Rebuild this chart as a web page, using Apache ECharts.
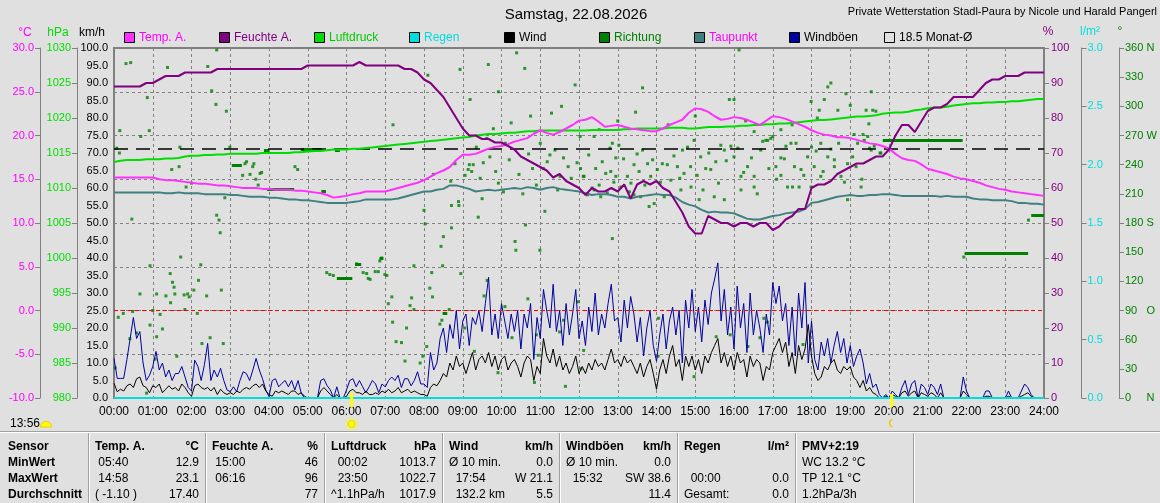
<!DOCTYPE html>
<html>
<head>
<meta charset="utf-8">
<script src="https://cdn.jsdelivr.net/npm/echarts@6/dist/echarts.min.js"></script>
<style>
html,body{margin:0;padding:0;background:#e0e0e0;}
#wetter{width:1160px;height:503px;}
</style>
</head>
<body>
<div id="wetter"></div>
<script>
// Tagesdaten 22.08.2026, Werte alle 10 Minuten (00:00 .. 24:00)
var tempA = [
15.2,15.2,15.2,15.2,15.2,15.2, 15.2,15.0,14.9,14.9,14.8,14.7,
14.6,14.5,14.5,14.4,14.3,14.3, 14.2,14.1,14.0,14.0,14.0,13.9,
13.9,13.8,13.8,13.8,13.7,13.7, 13.6,13.5,13.4,13.2,12.9,13.0,
13.1,13.3,13.4,13.6,13.6,13.6, 13.6,13.8,14.0,14.2,14.4,14.6,
14.9,15.3,15.7,16.0,16.4,17.2, 17.8,17.8,17.9,18.2,18.5,18.7,
18.8,19.0,19.3,19.5,19.7,20.2, 20.6,20.3,20.1,20.4,20.8,21.2,
21.7,21.8,22.1,21.6,21.0,21.1, 21.2,21.0,20.8,20.7,20.6,20.5,
20.5,20.8,21.2,21.5,21.8,22.6, 23.1,23.0,22.7,22.2,21.8,21.9,
22.1,22.0,21.8,21.5,21.2,21.7, 22.2,22.1,21.9,21.6,21.3,21.0,
20.6,20.3,20.1,20.0,19.8,19.8, 19.7,19.5,19.3,19.1,19.0,18.8,
18.5,17.9,17.4,17.2,17.1,16.7, 16.2,16.0,15.8,15.6,15.3,15.1,
15.0,14.8,14.6,14.3,14.1,13.9, 13.8,13.6,13.5,13.4,13.3,13.2,
13.1];
var feuchteA = [
89,89,89,89,89,90, 90,91,92,92,92,93, 93,93,93,93,94,94, 94,94,94,94,94,94,
94,94,94,94,94,94, 95,95,95,95,95,95, 95,95,96,95,95,95, 95,95,95,94,94,93,
91,90,88,86,83,80, 77,75,75,74,74,73, 73,72,71,69,68,67, 66,65,63,64,62,61,
60,58,60,59,59,60, 59,61,57,61,62,61, 62,60,59,56,53,49, 47,47,52,51,50,50,
49,50,50,49,50,50, 48,49,51,52,54,54, 60,61,61,62,64,65, 66,67,67,68,69,69,
71,75,78,78,76,79, 82,83,83,84,86,86, 86,86,88,90,91,91, 92,92,92,93,93,93,
93];
var luftdruck = [
1013.7,1013.9,1014.0,1014.0,1014.0,1014.1, 1014.1,1014.1,1014.2,1014.2,1014.3,1014.5,
1014.6,1014.6,1014.7,1014.7,1014.8,1014.8, 1014.9,1014.9,1014.9,1014.9,1014.9,1015.0,
1015.0,1015.0,1015.0,1015.0,1015.1,1015.1, 1015.2,1015.3,1015.3,1015.4,1015.5,1015.5,
1015.5,1015.6,1015.6,1015.7,1015.8,1015.9, 1016.0,1016.1,1016.2,1016.3,1016.4,1016.5,
1016.6,1016.7,1016.8,1016.9,1017.0,1017.1, 1017.2,1017.3,1017.5,1017.6,1017.7,1017.7,
1017.8,1017.9,1017.9,1018.0,1018.1,1018.1, 1018.2,1018.2,1018.2,1018.2,1018.2,1018.2,
1018.2,1018.2,1018.3,1018.3,1018.3,1018.3, 1018.3,1018.4,1018.4,1018.5,1018.5,1018.5,
1018.5,1018.5,1018.6,1018.6,1018.6,1018.5, 1018.5,1018.6,1018.7,1018.7,1018.7,1018.8,
1018.8,1018.9,1018.9,1019.0,1019.0,1019.1, 1019.1,1019.2,1019.2,1019.3,1019.4,1019.5,
1019.6,1019.7,1019.7,1019.8,1019.9,1020.0, 1020.1,1020.2,1020.2,1020.3,1020.4,1020.6,
1020.7,1020.8,1020.8,1020.9,1021.1,1021.2, 1021.4,1021.5,1021.5,1021.6,1021.8,1021.9,
1022.0,1022.1,1022.1,1022.2,1022.2,1022.3, 1022.3,1022.4,1022.4,1022.5,1022.6,1022.7,
1022.7];
var taupunkt = [
13.5,13.5,13.5,13.5,13.5,13.5, 13.5,13.5,13.4,13.4,13.5,13.4,
13.4,13.4,13.3,13.3,13.3,13.3, 13.2,13.2,13.1,13.0,13.0,13.0,
12.9,12.9,12.8,12.7,12.7,12.6, 12.6,12.5,12.4,12.3,12.3,12.3,
12.3,12.4,12.5,12.7,12.7,12.7, 12.7,12.7,12.8,13.0,13.2,13.4,
13.6,13.6,13.8,13.9,14.3,14.3, 14.1,13.9,13.6,13.7,13.8,13.7,
13.8,13.9,14.0,13.9,14.1,14.0, 13.8,14.0,14.1,13.9,13.8,13.7,
13.6,13.4,13.2,13.3,13.3,13.2, 13.0,13.0,12.8,13.0,13.1,13.2,
13.3,13.2,13.2,12.9,12.4,12.1, 11.9,11.5,11.2,11.3,11.2,11.2,
11.1,10.8,10.5,10.4,10.4,10.6, 10.8,10.9,11.1,11.2,11.3,11.6,
12.3,12.4,12.6,12.8,13.0,13.1, 13.2,13.1,13.1,13.2,13.2,13.3,
13.3,13.2,13.1,13.1,13.1,13.1, 13.1,13.1,13.0,13.1,13.0,13.0,
13.0,12.8,12.7,12.7,12.6,12.6, 12.6,12.5,12.3,12.3,12.2,12.2,
12.1];
// Regen, stuendlich
var regen = [0,0,0,0,0,0,0,0,0,0,0,0,0,0,0,0,0,0,0,0,0,0,0,0,0];
// Wind und Boeen, alle 5 Minuten
var windboeen = [
11.3,5.6,5.6,5.6,11.0,17.0,23.0,17.0,19.0,10.0,5.0,6.5,
9.0,13.3,8.0,10.0,6.0,8.0,5.0,7.0,7.0,9.0,6.0,3.0,
2.0,10.8,9.0,5.0,9.5,15.6,5.0,8.0,6.0,8.5,5.0,2.3,
1.8,3.2,1.8,5.0,7.5,7.0,5.0,8.0,11.3,8.0,5.5,2.3,
0.4,5.0,5.5,3.2,4.2,5.0,3.2,5.0,2.3,5.0,1.3,0.0,
0.0,0.0,0.0,0.0,5.0,5.5,3.5,2.3,0.0,3.2,0.0,0.0,
2.3,5.0,5.5,3.2,5.0,3.2,1.5,3.2,5.0,4.0,1.5,4.0,
3.2,5.0,6.0,5.0,6.5,3.0,5.5,5.5,3.5,5.0,7.5,4.0,
4,3,13,8,10,17,20,13,21,17,25,14,
22,24,15,23,21,25,19,27,34.5,18,24,17,
27,22,17,24,19,25,14,24,20,27,11,23,
17,31,25,20,32.5,19,25,15,27,18,24,31,
17,22,15,26,19,30,18,24,20,27,32.5,22,
23,16,28,20,29,24,16,23,12,20,25,15,
10.5,18,24,14,22,26,18,25,10,28,20,31,
19,26,16,28,21,30,34,38.6,22,31,18,26,
14,32,20,27,13,30,18,25,20,13,24,18,
33,27,32,22,27,15,26,12,30,20,33,10,
22,11,8,16,12,17,10,15,19,13,17,10,
15,9,12,14,10,4,7,3,4,1,0,1,
0,2,1,0,3,5,1,4,5,0,4,3,
1,4,3,1,4,0,0,0,0,0,0,6,
2,0,0,0,0,0,2,2,0,0,0,0,
0,2,0,0,0,2,4,3,1,0,0,0,
0];
var wind = [
4.2,1.8,2.5,2.0,3.5,4.0,3.0,5.5,6.0,3.5,3.0,1.5,
3.5,3.0,4.0,1.5,2.5,3.5,2.5,3.0,2.0,4.0,3.0,1.5,
0.5,3.5,4.0,3.0,2.5,3.0,2.0,3.0,1.0,2.5,1.5,1.0,
1.5,1.0,2.0,1.5,2.5,3.0,2.5,3.5,4.0,3.0,4.0,2.0,
1.0,0.5,2.0,1.5,2.0,1.5,1.0,2.0,2.0,1.0,1.5,0.5,
0,0,0,0,2.0,3.0,2.0,1.0,0,1.0,0,0,
0.5,2.0,2.5,1.5,1.5,1.0,2.0,1.0,1.0,1.5,1.0,2.0,
1.5,2.5,1.5,2.0,3.0,1.5,2.0,2.5,1.5,2.0,1.5,1.0,
1,0.5,3,4,3.5,5,7,6,10,8,12,9,
10,7,10,13,8,11,12,10,13,9,12,8,
11,12,8,10,11,9,6,10,12,11,5,9,
7,17,12,10,14,9,12,8,10,7,9,12,
7,9,7,10,8,11,9,10,8,11,14,10,
11,9,12,10,11,9,7,10,6,9,11,7,
2.5,8,11,7,12,15,9,11,5,12,9,12,
8,11,7,12,10,13,15,17,10,13,9,12,
8,13,10,11,6,12,9,11,10,5,9,8,
13,15,17,13,16,9,13,7,15,11,14,21,
12,7,5,6,9,8,10,11,8,7,9,8,
9,6,5,3,5,2,3,1.5,1,0,0,0.5,
0,1,0.5,0,1.5,2,0.5,1.5,2,0,1.5,1,
0.5,1.5,1,0,1.5,0,0,0,0,0,0,2,
1,0,0,0,0,0,0.5,0.5,0,0,0,0,
0,0.5,0,0,0,0.5,1,1.5,0.5,0,0,0,
0];
// Windrichtung: [Stunde, Grad]
var richtungPunkte = [
[0.03,31],[0.07,257],[0.11,83],[0.14,252],[0.15,275],[0.24,87],[0.31,344],[0.41,61],[0.43,345],[0.46,184],[0.48,89],[0.58,67],[0.67,107],[0.69,269],[0.84,5],[0.86,309],[0.91,275],[0.93,136],[0.93,75],
[1.0,90],[1.06,40],[1.1,107],[1.1,63],[1.19,86],[1.25,71],[1.34,105],[1.38,340],[1.45,128],[1.46,98],[1.49,235],[1.51,119],[1.55,114],[1.57,107],[1.62,43],[1.68,238],[1.7,258],[1.72,145],[1.81,106],[1.83,91],[1.86,217],[1.9,107],[1.94,104],
[2.0,221],[2.06,111],[2.15,87],[2.18,121],[2.24,137],[2.27,56],[2.39,105],[2.42,341],[2.48,62],[2.52,316],[2.63,302],[2.65,188],[2.65,358],[2.71,183],[2.74,170],[2.77,111],[2.82,56],[2.86,206],[2.9,295],[2.99,258],
[3.32,229],[3.38,241],[3.42,243],[3.51,230],[3.58,238],[3.61,241],[3.66,225],[3.72,219],[3.77,231],[3.81,232],
[4.67,238],[4.74,235],[5.49,129],[5.57,127],[5.66,126],
[6.26,138],[6.43,129],[6.52,128],[6.56,123],[6.61,122],[6.74,130],[6.82,130],[6.86,141],[6.91,144],[6.99,127],
[7.04,126],[7.08,97],[7.17,104],[7.19,78],[7.2,281],[7.28,58],[7.42,57],[7.51,38],[7.55,72],[7.64,95],[7.68,103],[7.74,91],[7.74,136],[7.9,36],[7.97,43],
[8.0,193],[8.03,179],[8.07,53],[8.1,332],[8.15,113],[8.2,129],[8.22,104],[8.24,230],[8.41,76],[8.44,156],[8.46,80],[8.48,136],[8.5,166],[8.54,87],[8.65,91],[8.69,223],[8.71,198],[8.71,175],[8.8,241],[8.89,202],[8.9,198],[8.93,338],[8.95,128],
[9.05,72],[9.06,229],[9.14,235],[9.17,240],[9.19,307],[9.23,233],[9.27,240],[9.3,48],[9.35,258],[9.4,186],[9.45,226],[9.5,205],[9.53,242],[9.55,105],[9.62,267],[9.63,121],[9.66,343],[9.7,248],[9.79,277],[9.85,233],[9.91,26],[9.92,315],[9.92,221],
[10.05,212],[10.09,94],[10.1,262],[10.2,245],[10.25,283],[10.27,62],[10.35,161],[10.37,152],[10.39,355],[10.45,230],[10.55,210],[10.6,339],[10.62,178],[10.68,102],[10.7,251],[10.75,290],[10.8,236],[10.85,16],[10.9,219],[10.9,65],[10.95,44],[10.99,152],
[11.0,262],[11.08,236],[11.12,192],[11.18,243],[11.25,250],[11.29,293],[11.38,255],[11.45,214],[11.5,68],[11.51,228],[11.55,300],[11.6,247],[11.6,80],[11.65,12],[11.72,238],[11.8,226],[11.9,322],[11.95,242],[11.98,99],
[12.03,269],[12.04,236],[12.05,30],[12.11,228],[12.12,49],[12.13,228],[12.22,209],[12.25,250],[12.34,216],[12.39,214],[12.39,269],[12.43,236],[12.52,219],[12.52,276],[12.56,207],[12.6,243],[12.69,231],[12.73,211],[12.8,257],[12.82,233],[12.86,262],[12.86,164],[12.9,222],[12.95,247],[12.95,228],
[13.0,285],[13.03,260],[13.08,217],[13.15,246],[13.25,228],[13.3,212],[13.34,221],[13.42,240],[13.42,209],[13.46,294],[13.5,251],[13.55,233],[13.59,207],[13.64,255],[13.64,319],[13.7,219],[13.77,241],[13.81,197],[13.85,228],[13.9,245],[13.94,200],
[14.02,235],[14.04,43],[14.05,82],[14.1,222],[14.15,241],[14.2,207],[14.28,240],[14.3,281],[14.37,224],[14.45,249],[14.54,238],[14.6,226],[14.63,214],[14.67,255],[14.71,231],[14.8,258],[14.88,238],[14.89,217],[14.97,265],[14.97,22],
[15.0,290],[15.05,229],[15.1,204],[15.14,248],[15.2,214],[15.27,236],[15.35,252],[15.4,235],[15.49,207],[15.53,243],[15.54,63],[15.6,221],[15.66,260],[15.75,255],[15.75,204],[15.8,244],[15.88,307],[15.9,65],[15.92,259],
[16.0,248],[16.0,307],[16.1,257],[16.13,358],[16.18,228],[16.18,214],[16.25,232],[16.3,285],[16.35,238],[16.36,53],[16.45,247],[16.52,228],[16.52,217],[16.52,274],[16.6,210],[16.67,62],[16.69,255],[16.74,264],[16.77,82],[16.82,265],[16.86,78],[16.87,265],[16.9,236],[16.95,267],
[17.0,269],[17.08,238],[17.1,225],[17.21,247],[17.21,229],[17.21,276],[17.3,246],[17.34,259],[17.38,217],[17.47,262],[17.5,281],[17.51,217],[17.56,238],[17.6,262],[17.68,217],[17.73,235],[17.78,55],[17.8,229],[17.9,248],[17.99,305],[17.99,217],
[18.0,258],[18.07,238],[18.12,254],[18.15,288],[18.2,296],[18.24,262],[18.24,228],[18.3,233],[18.33,307],[18.42,320],[18.42,248],[18.5,256],[18.5,324],[18.59,238],[18.59,245],[18.68,296],[18.7,262],[18.76,228],[18.85,222],[18.89,313],[18.93,241],[18.93,204],
[19.0,301],[19.06,248],[19.1,271],[19.15,238],[19.19,262],[19.28,217],[19.3,225],[19.33,271],[19.36,265],[19.41,296],[19.45,269],[19.48,282],[19.5,257],[19.54,315],[19.54,255],[19.58,296],[19.62,259],[19.66,295],[19.77,252],[19.79,252],
[21.93,145],[23.6,183]
];
// Windstille: Richtung bleibt stehen [von, bis, Grad]
var richtungKonstant = [
[3.04,3.30,239],[3.87,4.0,255],[3.95,4.65,215],[4.82,5.36,256],[5.35,5.47,213],[5.7,5.83,255],
[5.75,6.15,123],[6.22,6.38,138],[6.85,6.95,144],[8.48,8.6,87],
[19.84,21.9,265],[21.95,23.59,149],[23.67,24,188]
];
var monatMittel = 18.5;
var sonnenAufgang = 6 + 8 / 60;
var sonnenUntergang = 20 + 4 / 60;
var tagesLaenge = '13:56';

// Tabelle unten
var tabKopf = [['Temp. A.','°C'],['Feuchte A.','%'],['Luftdruck','hPa'],['Wind','km/h'],['Windböen','km/h'],['Regen','l/m²'],['PMV+2:19','']];
var tabMin = [[' 05:40','12.9'],[' 15:00','46'],['  00:02','1013.7'],['Ø 10 min.','0.0'],['Ø 10 min.','0.0'],['',''],['WC 13.2 °C','']];
var tabMax = [[' 14:58','23.1'],[' 06:16','96'],['  23:50','1022.7'],['  17:54','W 21.1'],['  15:32','SW 38.6'],['  00:00','0.0'],['TP 12.1 °C','']];
var tabMittel = [['( -1.10 )','17.40'],['','77'],['^1.1hPa/h','1017.9'],['  132.2 km','5.5'],['','11.4'],['Gesamt:','0.0'],['1.2hPa/3h','']];
var tabZeilen = ['Sensor','MinWert','MaxWert','Durchschnitt'];

var FN = "'Liberation Sans', Arial, sans-serif";

function reihe(werte, minuten) {
	var out = [];
	for (var i = 0; i < werte.length; i++) {
		out.push([i * minuten / 60, werte[i]]);
	}
	return out;
}
function zwei(n) { return (n < 10 ? '0' : '') + n; }

var chart = echarts.init(document.getElementById('wetter'));

var graphik = [];
function text(x, y, t, farbe, align, size, weight) {
	graphik.push({type: 'text', x: x, y: y, silent: true, z: 10,
		style: {text: t, fill: farbe, align: align || 'left', verticalAlign: 'middle',
			fontFamily: FN, fontSize: size || 12, fontWeight: weight || 'normal'}});
}
function linie(x1, y1, x2, y2, farbe, breite) {
	graphik.push({type: 'line', silent: true, z: 5,
		shape: {x1: x1, y1: y1, x2: x2, y2: y2},
		style: {stroke: farbe, lineWidth: breite || 1}});
}

// Titel
text(576, 15, 'Samstag, 22.08.2026', '#000', 'center', 15);
text(1157, 12, 'Private Wetterstation Stadl-Paura by Nicole und Harald Pangerl', '#000', 'right', 11);
// Achsentitel
text(25, 33, '°C', '#ff00ff', 'center');
text(58, 33, 'hPa', '#00dd00', 'center');
text(92, 33, 'km/h', '#000', 'center');
text(1048, 32, '%', '#800080', 'center');
text(1090, 32, 'l/m²', '#00dddd', 'center');
text(1120, 32, '°', '#008000', 'center');

// Legende
var legende = [
	['Temp. A.', '#ff30ff', '#ff00ff'], ['Feuchte A.', '#800080', '#800080'], ['Luftdruck', '#00dd00', '#00cc00'],
	['Regen', '#00dddd', '#00dddd'], ['Wind', '#000000', '#000'], ['Richtung', '#008000', '#008000'],
	['Taupunkt', '#408080', '#ff00ff'], ['Windböen', '#0000a0', '#000'], [monatMittel + ' Monat-Ø', 'transparent', '#000']
];
for (var i = 0; i < legende.length; i++) {
	var bx = 124 + i * 95;
	graphik.push({type: 'rect', silent: true, z: 10, shape: {x: bx + 0.5, y: 32.5, width: 10, height: 10},
		style: {fill: legende[i][1], stroke: '#000', lineWidth: 1}});
	text(bx + 15, 38, legende[i][0], legende[i][2], 'left', 12);
}

// Tabelle
var trenner = [88, 205, 324, 442, 559, 677, 795, 913];
linie(0, 431.5, 1160, 431.5, '#a0a0a0', 1);
linie(0, 432.5, 1160, 432.5, '#ffffff', 1);
for (var i = 0; i < trenner.length; i++) {
	linie(trenner[i] + 0.5, 433, trenner[i] + 0.5, 503, '#a0a0a0', 1);
	linie(trenner[i] + 1.5, 433, trenner[i] + 1.5, 503, '#ffffff', 1);
}
var zeilenY = [447, 463, 479, 495];
for (var r = 0; r < tabZeilen.length; r++) {
	text(8, zeilenY[r], tabZeilen[r], '#000', 'left', 12, 'bold');
}
var tabWerte = [tabMin, tabMax, tabMittel];
for (var c = 0; c < tabKopf.length; c++) {
	var xl = trenner[c] + 7, xr = trenner[c + 1] - 6;
	text(xl, zeilenY[0], tabKopf[c][0], '#000', 'left', 12, 'bold');
	text(xr, zeilenY[0], tabKopf[c][1], '#000', 'right', 12, 'bold');
	for (var r = 0; r < 3; r++) {
		text(xl, zeilenY[r + 1], tabWerte[r][c][0], '#000', 'left', 12);
		text(xr, zeilenY[r + 1], tabWerte[r][c][1], '#000', 'right', 12);
	}
}

function richtungText(v) {
	var s = {360: ' N', 270: ' W', 180: ' S', 90: '   O', 0: '     N'};
	return v + (s[v] || '');
}
function yAchse(pos, offset, min, max, step, farbe, fmt, linieZeigen, splitZeigen) {
	return {
		type: 'value', position: pos, offset: offset, min: min, max: max, interval: step,
		axisLine: {show: linieZeigen, lineStyle: {color: '#808080', width: 1}},
		axisTick: {show: offset !== 0 || pos === 'right', length: 5, lineStyle: {color: '#808080'}},
		axisLabel: {color: farbe, fontSize: 11, fontFamily: FN, margin: pos === 'right' && offset === 0 ? 7 : 6,
			formatter: fmt, showMinLabel: true, showMaxLabel: true},
		splitLine: {show: splitZeigen, lineStyle: {color: '#808080', type: [3, 3], width: 1}}
	};
}

var richtungSegmente = richtungKonstant.map(function (s) {
	return {coords: [[s[0], s[2]], [s[1], s[2]]]};
});

var option = {
	animation: false,
	backgroundColor: '#e0e0e0',
	textStyle: {fontFamily: FN},
	grid: {left: 114, right: 116, top: 48, bottom: 105, show: true, borderColor: '#808080', borderWidth: 2},
	xAxis: {
		type: 'value', min: 0, max: 24, interval: 1,
		axisLine: {show: false}, axisTick: {show: false},
		axisLabel: {color: '#000', fontSize: 12, fontFamily: FN, margin: 8,
			formatter: function (v) { return zwei(Math.round(v)) + ':00'; }},
		splitLine: {show: true, lineStyle: {color: '#808080', type: [3, 3], width: 1}}
	},
	yAxis: [
		yAchse('left', 0, 0, 100, 5, '#000', function (v) { return v.toFixed(1); }, false, false),
		yAchse('left', 74, -10, 30, 5, '#ff00ff', function (v) { return v.toFixed(1); }, true, true),
		yAchse('left', 37, 980, 1030, 5, '#00dd00', function (v) { return String(v); }, true, false),
		yAchse('right', 0, 0, 100, 10, '#800080', function (v) { return String(v); }, false, false),
		yAchse('right', 37.5, 0, 3, 0.5, '#00dddd', function (v) { return v.toFixed(1); }, true, false),
		yAchse('right', 75, 0, 360, 30, '#008000', richtungText, true, false)
	],
	series: [
		{name: 'Monat-Ø', type: 'line', yAxisIndex: 1, data: [], z: 1,
			markLine: {silent: true, symbol: 'none', label: {show: false},
				data: [
					{yAxis: 0, lineStyle: {color: '#ff0000', type: [4, 3], width: 1}},
					{yAxis: monatMittel, lineStyle: {color: '#000', type: [14, 8], width: 1.5}}
				]}},
		{name: 'Richtung', type: 'scatter', yAxisIndex: 5, data: richtungPunkte, symbol: 'rect', symbolSize: 3,
			itemStyle: {color: '#008000'}, z: 2},
		{name: 'Richtung konstant', type: 'lines', coordinateSystem: 'cartesian2d', yAxisIndex: 5, data: richtungSegmente,
			lineStyle: {color: '#008000', width: 3, opacity: 1}, z: 2},
		{name: 'Windböen', type: 'line', yAxisIndex: 0, data: reihe(windboeen, 5), showSymbol: false,
			lineStyle: {color: '#0000a0', width: 1}, z: 3},
		{name: 'Wind', type: 'line', yAxisIndex: 0, data: reihe(wind, 5), showSymbol: false,
			lineStyle: {color: '#000', width: 1}, z: 4},
		{name: 'Taupunkt', type: 'line', yAxisIndex: 1, data: reihe(taupunkt, 10), showSymbol: false,
			lineStyle: {color: '#408080', width: 2}, z: 5},
		{name: 'Luftdruck', type: 'line', yAxisIndex: 2, data: reihe(luftdruck, 10), showSymbol: false,
			lineStyle: {color: '#00dd00', width: 2}, z: 6},
		{name: 'Temp. A.', type: 'line', yAxisIndex: 1, data: reihe(tempA, 10), showSymbol: false,
			lineStyle: {color: '#ff30ff', width: 2}, z: 7},
		{name: 'Feuchte A.', type: 'line', yAxisIndex: 3, data: reihe(feuchteA, 10), showSymbol: false,
			lineStyle: {color: '#800080', width: 2}, z: 8},
		{name: 'Regen', type: 'line', yAxisIndex: 4, data: reihe(regen, 60), showSymbol: false,
			lineStyle: {color: '#00dddd', width: 2}, z: 9}
	],
	graphic: graphik
};
chart.setOption(option);

// Sonnenauf- und -untergang, Tageslaenge
var y0 = chart.convertToPixel({yAxisIndex: 0}, 0);
var xAuf = chart.convertToPixel({xAxisIndex: 0}, sonnenAufgang);
var xUnter = chart.convertToPixel({xAxisIndex: 0}, sonnenUntergang);
function sonne(cx, cy) {
	var teile = [{type: 'circle', shape: {cx: cx, cy: cy, r: 3.5}, style: {fill: '#ffff00', stroke: '#e8d000', lineWidth: 1}}];
	for (var k = 0; k < 8; k++) {
		var a = k * Math.PI / 4;
		teile.push({type: 'line', shape: {x1: cx + Math.cos(a) * 4, y1: cy + Math.sin(a) * 4, x2: cx + Math.cos(a) * 6.5, y2: cy + Math.sin(a) * 6.5},
			style: {stroke: '#ffff00', lineWidth: 1.5}});
	}
	return {type: 'group', silent: true, z: 12, children: teile};
}
graphik.push({type: 'line', silent: true, z: 12, shape: {x1: xAuf, y1: y0 - 5, x2: xAuf, y2: y0 + 9}, style: {stroke: '#ffff00', lineWidth: 3}});
graphik.push({type: 'line', silent: true, z: 12, shape: {x1: xUnter, y1: y0 - 4, x2: xUnter, y2: y0 + 9}, style: {stroke: '#ffff00', lineWidth: 3}});
graphik.push(sonne(xAuf, y0 + 26));
graphik.push({type: 'arc', silent: true, z: 12, shape: {cx: xUnter + 2, cy: y0 + 25, r: 4, startAngle: Math.PI * 0.6, endAngle: Math.PI * 1.4},
	style: {stroke: '#e8d000', lineWidth: 1.5, fill: null}});
text(10, y0 + 26, tagesLaenge, '#000', 'left', 12);
graphik.push({type: 'sector', silent: true, z: 12, shape: {cx: 46, cy: y0 + 29, r0: 0, r: 5.5, startAngle: Math.PI, endAngle: Math.PI * 2},
	style: {fill: '#ffff00', stroke: '#e8d000', lineWidth: 1}});
chart.setOption({graphic: graphik});
</script>
</body>
</html>
